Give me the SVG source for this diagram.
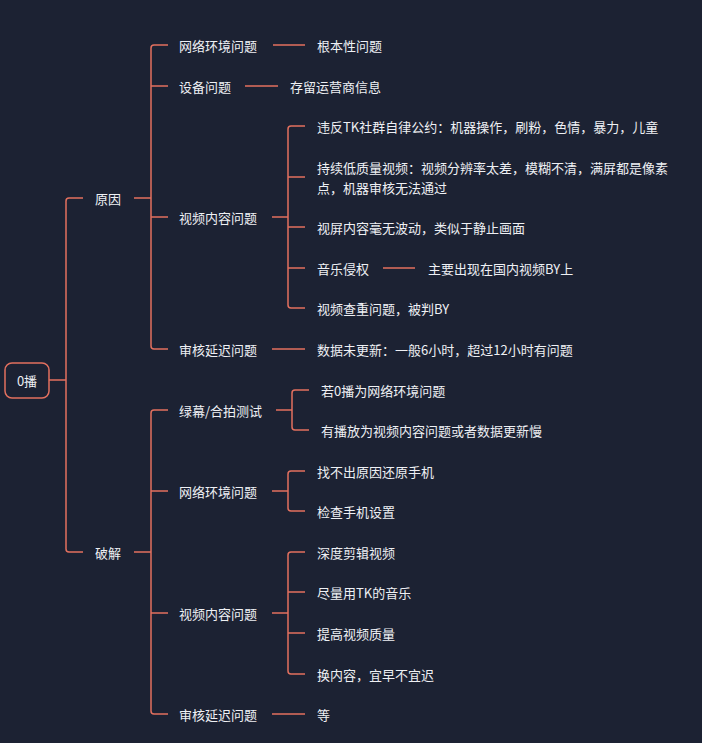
<svg xmlns="http://www.w3.org/2000/svg" width="702" height="743" viewBox="0 0 702 743">
<style>
text{font-family:"Noto Sans CJK SC","Liberation Sans",sans-serif;font-size:13px;fill:#eef0f4;dominant-baseline:central}
.c path{fill:none;stroke:#e2705f;stroke-width:1.5}
</style>
<rect width="702" height="743" fill="#1c2233"/>
<g class="c">
<path d="M49 380H66M83 198H69Q66 198 66 201V549Q66 552 69 552H83"/>
<path d="M134 198H151M168 45H154Q151 45 151 48V346Q151 349 154 349H168M151 86H168M151 217H168"/>
<path d="M134 552H151M168 410H154Q151 410 151 413V711Q151 714 154 714H168M151 491H168M151 613H168"/>
<path d="M273 45H305M245 86H278M383 268H415M272 349H305M272 714H305"/>
<path d="M272 217H288M305 126H291Q288 126 288 129V305Q288 308 291 308H305M288 177H305M288 227H305M288 268H305"/>
<path d="M276 410H292M309 390H295Q292 390 292 393V427Q292 430 295 430H309"/>
<path d="M272 491H288M305 471H291Q288 471 288 474V508Q288 511 291 511H305"/>
<path d="M272 613H288M305 552H291Q288 552 288 555V671Q288 674 291 674H305M288 592H305M288 633H305"/>
</g>
<g id="root"><rect x="5" y="363" width="44" height="35" rx="7" fill="#1c2233" stroke="#e2705f" stroke-width="1.5"/><text x="27" y="380" text-anchor="middle">0播</text></g>
<g id="n1"><text x="95" y="198">原因</text></g>
<g id="n2"><text x="95" y="552">破解</text></g>
<g id="a1"><text x="179" y="45">网络环境问题</text><text x="317" y="45">根本性问题</text></g>
<g id="a2"><text x="179" y="86">设备问题</text><text x="290" y="86">存留运营商信息</text></g>
<g id="a3"><text x="179" y="217">视频内容问题</text>
<text x="317" y="126">违反TK社群自律公约：机器操作，刷粉，色情，暴力，儿童</text>
<text x="317" y="167">持续低质量视频：视频分辨率太差，模糊不清，满屏都是像素</text>
<text x="317" y="187">点，机器审核无法通过</text>
<text x="317" y="227">视屏内容毫无波动，类似于静止画面</text>
<text x="317" y="268">音乐侵权</text><text x="428" y="268">主要出现在国内视频BY上</text>
<text x="317" y="308">视频查重问题，被判BY</text></g>
<g id="a4"><text x="179" y="349">审核延迟问题</text><text x="317" y="349">数据未更新：一般6小时，超过12小时有问题</text></g>
<g id="b1"><text x="179" y="410">绿幕/合拍测试</text><text x="321" y="390">若0播为网络环境问题</text><text x="321" y="430">有播放为视频内容问题或者数据更新慢</text></g>
<g id="b2"><text x="179" y="491">网络环境问题</text><text x="317" y="471">找不出原因还原手机</text><text x="317" y="511">检查手机设置</text></g>
<g id="b3"><text x="179" y="613">视频内容问题</text><text x="317" y="552">深度剪辑视频</text><text x="317" y="592">尽量用TK的音乐</text><text x="317" y="633">提高视频质量</text><text x="317" y="674">换内容，宜早不宜迟</text></g>
<g id="b4"><text x="179" y="714">审核延迟问题</text><text x="317" y="714">等</text></g>
</svg>
